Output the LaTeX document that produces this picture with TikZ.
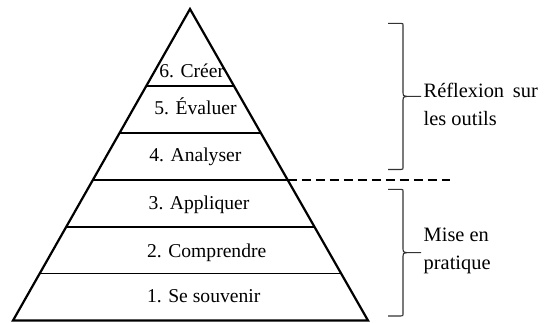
\documentclass[tikz,border=0pt]{standalone}
\usepackage{fontspec}
\setmainfont{Liberation Serif}
\usetikzlibrary{calc}

% curly bracket on the right: top y, bottom y
\newcommand{\sidebrace}[2]{%
    \pgfmathsetmacro{\ym}{(#1+#2)/2}
    \draw[bracket] (388,#1) -- (400.5,#1) .. controls (403,#1) .. (403,#1+3.5)
        -- (403,\ym-3.5) .. controls (403,\ym-0.8) .. (407,\ym) -- (421,\ym)
        (407,\ym) .. controls (403,\ym+0.8) .. (403,\ym+3.5)
        -- (403,#2-3.5) .. controls (403,#2) .. (400.5,#2) -- (388,#2);
}

\begin{document}
\begin{tikzpicture}[
        x=0.5pt, y=-0.5pt,
        level/.style={font=\fontsize{9.8pt}{13pt}\selectfont, anchor=base west, inner sep=0pt},
        side/.style={font=\fontsize{10.2pt}{14pt}\selectfont, anchor=west, align=left, inner sep=0pt},
        bracket/.style={line width=0.55pt, black!80}
    ]

    \useasboundingbox (0,0) rectangle (549,322);

    \def\h{0.1505}

    \coordinate (A) at (190,9);
    \coordinate (L) at (13,320.5);
    \coordinate (R) at (368,320.5);

    \draw[line width=1.1pt] (L) -- (A) -- (R) -- cycle;

    \foreach \i in {1,...,5} {
        \coordinate (l\i) at ($(L)!\i*\h!(A)$);
        \coordinate (r\i) at ($(R)!\i*\h!(A)$);
        \draw[line width=0.85pt] (l\i) -- (r\i);
    }

    \coordinate (D) at ($(r3)+(162,0)$);
    \draw[line width=0.9pt, dash pattern=on 4.5pt off 2.5pt] (r3) -- (D);

    \node[level] (n1) at (146.7,302) {1. Se souvenir};
    \node[level] (n2) at (146.7,257) {2. Comprendre};
    \node[level] (n3) at (148.3,209) {3. Appliquer};
    \node[level] (n4) at (149,161.5) {4. Analyser};
    \node[level] (n5) at (154,114) {5. Évaluer};
    \node[level] (n6) at (159,77.5) {6. Créer};

    \sidebrace{23.3}{169.5}
    \sidebrace{189.3}{316}

    \node[side] (t1) at (423.3,104.5) {Réflexion\hspace{0.43em}sur\\les outils};
    \node[side] (t2) at (423.3,251) {Mise en\\pratique};
\end{tikzpicture}
\end{document}
